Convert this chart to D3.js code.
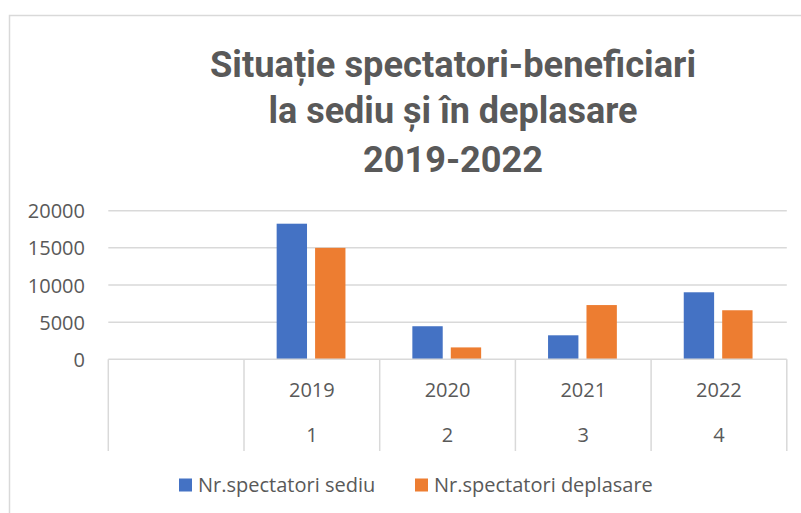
<!DOCTYPE html>
<html>
<head>
<meta charset="utf-8">
<script src="https://cdn.jsdelivr.net/npm/d3@7"></script>
<style>
  html, body { margin: 0; padding: 0; background: #fff; }
  svg { display: block; }
</style>
</head>
<body>
<svg id="chart" width="801" height="513"></svg>
<script>
// ---- data ----
const titleLines = ["Situație spectatori-beneficiari", "la sediu și în deplasare", "2019-2022"];
const years = ["", "2019", "2020", "2021", "2022"];
const indexLabels = ["", "1", "2", "3", "4"];
const seriesNames = ["Nr.spectatori sediu", "Nr.spectatori deplasare"];
const sediu = [null, 18250, 4450, 3230, 9020];
const deplasare = [null, 15000, 1600, 7300, 6600];
const yTicks = [0, 5000, 10000, 15000, 20000];
const colors = ["#4472C4", "#ED7D31"];

const svg = d3.select("#chart");
const textColor = "#595959";
const gridColor = "#D9D9D9";

// outer chart border (extends past the picture on right/bottom)
svg.append("rect")
  .attr("x", 9.5).attr("y", 15.5)
  .attr("width", 900).attr("height", 600)
  .attr("fill", "none").attr("stroke", gridColor).attr("stroke-width", 1.5);

// title
const titleWidths = [486, 369, 180];
const titleBaselines = [77, 123, 172];
svg.append("g").selectAll("text").data(titleLines).join("text")
  .attr("x", 453)
  .attr("y", (d, i) => titleBaselines[i])
  .attr("text-anchor", "middle")
  .attr("font-family", "Roboto, 'Noto Sans', sans-serif")
  .attr("font-weight", 700)
  .attr("font-size", 37)
  .attr("fill", textColor)
  .attr("textLength", (d, i) => titleWidths[i])
  .attr("lengthAdjust", "spacingAndGlyphs")
  .text(d => d);

// scales
const plotLeft = 108.3, plotRight = 786.8, yTop = 210.7, yBottom = 359.3;
const x = d3.scaleBand().domain(d3.range(years.length)).range([plotLeft, plotRight]).padding(0);
const y = d3.scaleLinear().domain([0, 20000]).range([yBottom, yTop]);

// gridlines
svg.append("g").selectAll("line").data(yTicks.filter(t => t > 0)).join("line")
  .attr("x1", plotLeft).attr("x2", plotRight)
  .attr("y1", d => y(d)).attr("y2", d => y(d))
  .attr("stroke", gridColor).attr("stroke-width", 1.5);

// y axis labels
const yAxis = d3.axisLeft(y).tickValues(yTicks).tickSize(0).tickPadding(0).tickFormat(d3.format("d"));
const yg = svg.append("g").attr("transform", `translate(85,0)`).call(yAxis);
yg.select(".domain").remove();
yg.selectAll("text")
  .attr("font-family", "'Open Sans', sans-serif")
  .attr("font-size", 20)
  .attr("fill", textColor)
  .attr("dy", "0.35em");

// bars
const inner = d3.scaleBand().domain([0, 1]).range([-34.4, 34.4]).paddingInner(0.21);
const seriesData = [sediu, deplasare];
seriesData.forEach((vals, s) => {
  svg.append("g").selectAll("rect")
    .data(vals.map((v, i) => ({ v, i })).filter(d => d.v != null))
    .join("rect")
    .attr("x", d => x(d.i) + x.bandwidth() / 2 - 0.8 + inner(s))
    .attr("y", d => y(d.v))
    .attr("width", inner.bandwidth())
    .attr("height", d => y(0) - y(d.v))
    .attr("fill", colors[s]);
});

// category axis table
const tableBottom = 451;
svg.append("line")
  .attr("x1", plotLeft).attr("x2", plotRight)
  .attr("y1", yBottom).attr("y2", yBottom)
  .attr("stroke", gridColor).attr("stroke-width", 1.5);
const bounds = d3.range(years.length).map(i => x(i)).concat([plotRight]);
svg.append("g").selectAll("line").data(bounds).join("line")
  .attr("x1", d => d).attr("x2", d => d)
  .attr("y1", yBottom).attr("y2", tableBottom)
  .attr("stroke", gridColor).attr("stroke-width", 1.5);

svg.append("g").selectAll("text").data(years).join("text")
  .attr("x", (d, i) => x(i) + x.bandwidth() / 2)
  .attr("y", 390)
  .attr("dy", "0.35em")
  .attr("text-anchor", "middle")
  .attr("font-family", "'Open Sans', sans-serif")
  .attr("font-size", 20)
  .attr("fill", textColor)
  .text(d => d);

svg.append("g").selectAll("text").data(indexLabels).join("text")
  .attr("x", (d, i) => x(i) + x.bandwidth() / 2)
  .attr("y", 435)
  .attr("dy", "0.35em")
  .attr("text-anchor", "middle")
  .attr("font-family", "'Open Sans', sans-serif")
  .attr("font-size", 20)
  .attr("fill", textColor)
  .text(d => d);

// legend
const legendX = [179, 415];
const lg = svg.append("g").selectAll("g").data(seriesNames).join("g")
  .attr("transform", (d, i) => `translate(${legendX[i]},485)`);
lg.append("rect").attr("x", 0).attr("y", -6.5).attr("width", 13).attr("height", 13)
  .attr("fill", (d, i) => colors[i]);
lg.append("text").attr("x", 19).attr("dy", "0.35em")
  .attr("font-family", "'Open Sans', sans-serif")
  .attr("font-size", 20)
  .attr("fill", textColor)
  .text(d => d);
</script>
</body>
</html>
